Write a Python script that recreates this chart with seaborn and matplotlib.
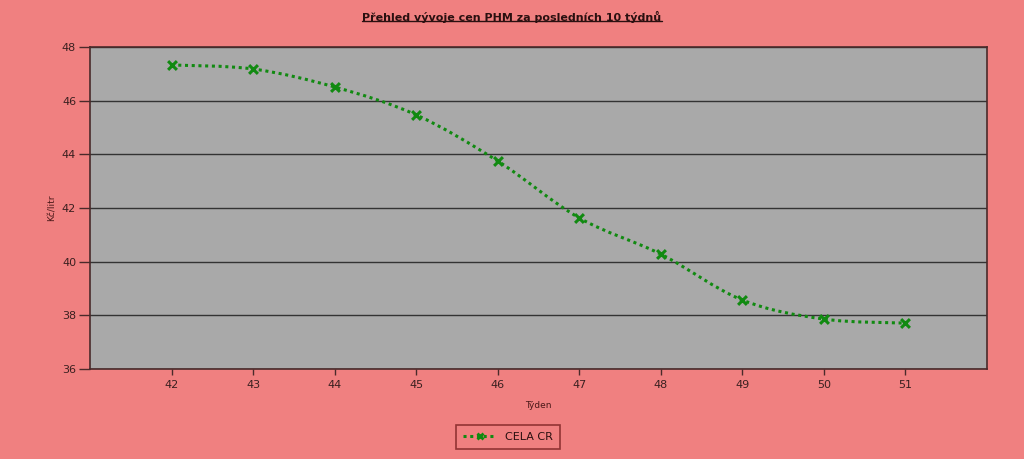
import numpy as np
import matplotlib
matplotlib.use("Agg")
import matplotlib.pyplot as plt
from matplotlib.path import Path
from matplotlib.patches import PathPatch
from matplotlib.lines import Line2D
import seaborn as sns

weeks = [42, 43, 44, 45, 46, 47, 48, 49, 50, 51]
prices = [47.33, 47.18, 46.51, 45.47, 43.75, 41.63, 40.28, 38.57, 37.86, 37.71]
series_name = "CELA CR"
y_ticks = [36, 38, 40, 42, 44, 46, 48]

sns.set_theme(style="white")
plt.rcParams['font.family'] = ['DejaVu Sans']

bg = '#F08080'
text_col = '#4a1818'
line_col = '#118a11'

fig = plt.figure(figsize=(10.24, 4.59), dpi=100)
fig.patch.set_facecolor(bg)
ax = fig.add_axes([90 / 1024, 1 - 369 / 459, (987 - 90) / 1024, (369 - 47) / 459])
ax.set_facecolor('#A9A9A9')

# smooth line through the points (Catmull-Rom style Bezier, like Excel smoothing)
x = np.array(weeks, dtype=float)
y = np.array(prices, dtype=float)
verts = [(x[0], y[0])]
codes = [Path.MOVETO]
for i in range(len(x) - 1):
    p0 = (x[i - 1], y[i - 1]) if i > 0 else (x[i], y[i])
    p3 = (x[i + 2], y[i + 2]) if i + 2 < len(x) else (x[i + 1], y[i + 1])
    c1 = (x[i] + (x[i + 1] - p0[0]) / 6, y[i] + (y[i + 1] - p0[1]) / 6)
    c2 = (x[i + 1] - (p3[0] - x[i]) / 6, y[i + 1] - (p3[1] - y[i]) / 6)
    verts += [c1, c2, (x[i + 1], y[i + 1])]
    codes += [Path.CURVE4] * 3
ax.add_patch(PathPatch(Path(verts, codes), facecolor='none', edgecolor=line_col,
                       lw=2.2, linestyle=(0, (1, 1.2)), zorder=3))

sns.scatterplot(x=weeks, y=prices, marker='x', s=40, color=line_col,
                linewidth=2.2, ax=ax, zorder=4)

ax.set_xlim(41, 52)
ax.set_ylim(36, 48)
ax.set_xticks(weeks)
ax.set_yticks(y_ticks)
ax.grid(True, axis='y', color='#333333', linewidth=1)
ax.grid(False, axis='x')
for s in ax.spines.values():
    s.set_color('#4a2a2a')
    s.set_linewidth(1.2)
ax.tick_params(axis='both', colors='#4a2a2a', labelsize=8, width=1,
               direction='out', bottom=True, left=True)
ax.tick_params(axis='x', length=4, pad=4)
ax.tick_params(axis='y', length=8, pad=2)
for lab in ax.get_xticklabels() + ax.get_yticklabels():
    lab.set_color('#3a2020')

ax.set_xlabel("Týden", fontsize=6.5, color=text_col, labelpad=8)
ax.set_ylabel("Kč/litr", fontsize=6.5, color=text_col, labelpad=4)

title = fig.text(0.5, 1 - 17 / 459, "Přehled vývoje cen PHM za posledních 10 týdnů",
                 ha='center', va='center', fontsize=8, fontweight='bold',
                 color='#2a1010')
# underline the title
fig.canvas.draw()
bb = title.get_window_extent()
fig.add_artist(Line2D([bb.x0 / 1024, bb.x1 / 1024], [(bb.y0 + 2) / 459] * 2,
                      color='#2a1010', lw=1, transform=fig.transFigure))

handle = Line2D([], [], color=line_col, lw=2.2, linestyle=(0, (1, 1.2)),
                marker='x', markersize=5, markeredgewidth=2)
leg = fig.legend([handle], [series_name], loc='center',
                 bbox_to_anchor=(508 / 1024, 1 - 437 / 459), frameon=True,
                 fontsize=8, handlelength=3, borderpad=0.6, fancybox=False)
leg.get_frame().set_facecolor(bg)
leg.get_frame().set_edgecolor('#7a2020')
leg.get_frame().set_linewidth(1.2)
for txt in leg.get_texts():
    txt.set_color('#2a1010')

fig.savefig("out.png", dpi=100, facecolor=fig.get_facecolor())
